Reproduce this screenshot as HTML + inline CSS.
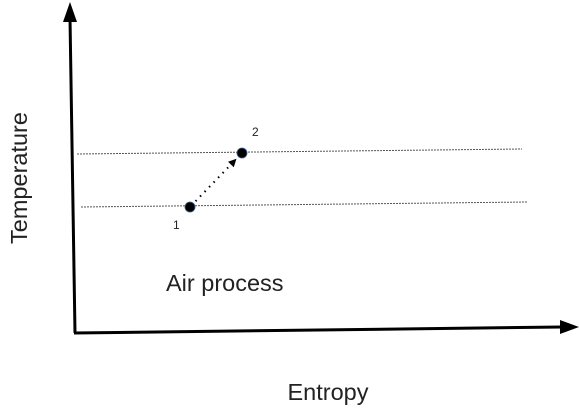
<!DOCTYPE html>
<html><head><meta charset="utf-8"><style>
html,body{margin:0;padding:0;background:#fff;width:579px;height:411px;overflow:hidden}
svg text{font-family:"Liberation Sans",sans-serif;fill:#222}
</style></head><body>
<svg id="c" width="579" height="411" viewBox="0 0 579 411">
<line x1="75" y1="333" x2="70" y2="18" stroke="#000" stroke-width="3"/>
<polygon points="63,22 77,22 70,2" fill="#000"/>
<line x1="74" y1="333" x2="562" y2="327" stroke="#000" stroke-width="3"/>
<polygon points="560,320 560,334 579,327" fill="#000"/>
<text x="328" y="400" font-size="23.5" text-anchor="middle">Entropy</text>
<text x="0" y="0" font-size="23.5" text-anchor="middle" transform="translate(27,178) rotate(-90)">Temperature</text>
<text x="166" y="291" font-size="23.5">Air process</text>
<g id="marks"></g>
</svg>
<script>
// data in entropy (x) / temperature (y) units
const isoStartS = [0.3, 0.7];
const isoEndS = [44.8, 45.3];
const isoStartT = [17.9, 12.6];
const isoEndT = [18.4, 13.1];
const pointLabels = ["1", "2"];
const pointS = [11.6, 16.8];
const pointT = [12.6, 18.0];

const xs = v => 74 + v * 10;
const ys = v => 333 - v * 10;
const g = document.getElementById('marks');
const NS = 'http://www.w3.org/2000/svg';
for (let i = 0; i < isoStartS.length; i++) {
  const l = document.createElementNS(NS, 'line');
  l.setAttribute('x1', xs(isoStartS[i])); l.setAttribute('y1', ys(isoStartT[i]));
  l.setAttribute('x2', xs(isoEndS[i])); l.setAttribute('y2', ys(isoEndT[i]));
  l.setAttribute('stroke', '#555'); l.setAttribute('stroke-width', '1');
  l.setAttribute('stroke-dasharray', '2,1');
  
  
  g.appendChild(l);
}
const ax1 = xs(pointS[0]), ay1 = ys(pointT[0]), ax2 = xs(pointS[1]), ay2 = ys(pointT[1]);
const dx = ax2 - ax1, dy = ay2 - ay1, len = Math.hypot(dx, dy), ux = dx / len, uy = dy / len;
const pl = document.createElementNS(NS, 'line');
pl.setAttribute('x1', ax1 + ux * 8); pl.setAttribute('y1', ay1 + uy * 8);
pl.setAttribute('x2', ax2 - ux * 14); pl.setAttribute('y2', ay2 - uy * 14);
pl.setAttribute('stroke', '#000'); pl.setAttribute('stroke-width', '2');
pl.setAttribute('stroke-dasharray', '1.5,5');


g.appendChild(pl);
const tx = ax2 - ux * 8, ty = ay2 - uy * 8, bx = tx - ux * 8, by = ty - uy * 8;
const ah = document.createElementNS(NS, 'polygon');
ah.setAttribute('points', `${tx},${ty} ${bx - uy * 4},${by + ux * 4} ${bx + uy * 4},${by - ux * 4}`);
ah.setAttribute('fill', '#000');


g.appendChild(ah);
const lblOff = [[-17, 22], [10, -17]];
for (let i = 0; i < pointS.length; i++) {
  const c = document.createElementNS(NS, 'circle');
  c.setAttribute('cx', xs(pointS[i])); c.setAttribute('cy', ys(pointT[i])); c.setAttribute('r', 5);
  c.setAttribute('fill', '#000'); c.setAttribute('stroke', '#3a5a8a'); c.setAttribute('stroke-width', '0.8');
  
  
  g.appendChild(c);
  const t = document.createElementNS(NS, 'text');
  t.setAttribute('x', xs(pointS[i]) + lblOff[i][0]); t.setAttribute('y', ys(pointT[i]) + lblOff[i][1]);
  t.setAttribute('font-size', '12');
  t.textContent = pointLabels[i];
  
  
  g.appendChild(t);
}
</script>
</body></html>
